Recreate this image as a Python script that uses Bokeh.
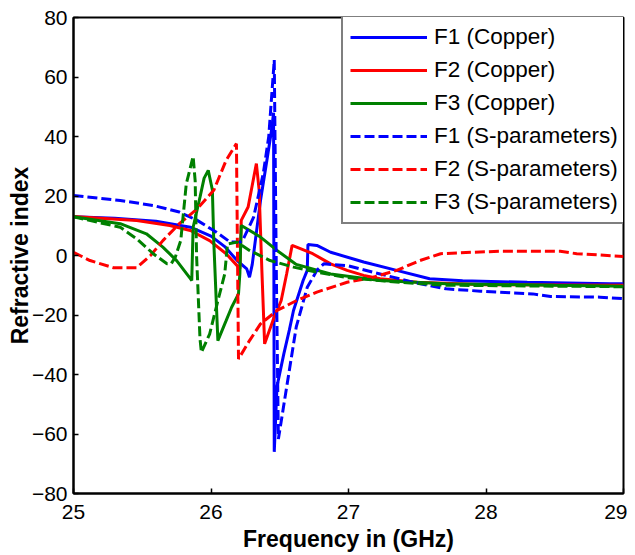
from bokeh.plotting import figure
from bokeh.models import Range1d, FixedTicker
from bokeh.embed import file_html
from bokeh.resources import INLINE

# ---------------- data ----------------
x_ticks = [25, 26, 27, 28, 29]
y_ticks = [-80, -60, -40, -20, 0, 20, 40, 60, 80]

f1_cu_x = [25.0, 25.3, 25.6, 25.85, 26.0, 26.1, 26.19, 26.26, 26.28, 26.30, 26.36, 26.41, 26.44, 26.455,
           26.46, 26.48, 26.53, 26.57, 26.60, 26.67, 26.70, 26.705, 26.77, 26.87, 27.11, 27.35, 27.59,
           27.83, 28.3, 28.9, 29.0]
f1_cu_y = [13.0, 12.5, 11.5, 9.5, 6.5, 3.0, -1.7, -4.5, -7.3, -3.0, 18.5, 33.0, 42.0, 48.0,
           -66.0, -44.0, -33.0, -25.0, -18.5, -8.4, -5.0, 3.7, 3.4, 1.1, -2.2, -5.0, -7.8,
           -8.5, -9.0, -9.5, -9.5]

f2_cu_x = [25.0, 25.46, 25.70, 25.85, 25.99, 26.11, 26.19, 26.21, 26.22, 26.27, 26.33, 26.35, 26.37,
           26.39, 26.45, 26.51, 26.55, 26.59, 26.65, 26.74, 26.87, 26.99, 27.11, 27.23, 27.5, 28.0, 29.0]
f2_cu_y = [13.1, 11.8, 10.1, 8.4, 5.0, 0.6, -3.4, -4.5, 11.8, 16.3, 30.9, 22.0, -5.0,
           -29.7, -21.9, -15.2, -6.2, 3.4, 2.3, 0.6, -2.8, -5.0, -6.7, -7.8, -9.0, -9.8, -10.0]

f3_cu_x = [25.0, 25.34, 25.53, 25.65, 25.75, 25.85, 25.86, 25.87, 25.92, 25.95, 25.98, 26.01, 26.02,
           26.05, 26.11, 26.15, 26.20, 26.21, 26.22, 26.36, 26.48, 26.62, 26.87, 27.23, 27.71, 28.5, 29.0]
f3_cu_y = [13.0, 10.7, 7.3, 2.8, -1.7, -7.8, -8.4, 9.5, 19.6, 26.0, 28.6, 22.0, 5.0,
           -28.6, -21.9, -17.4, -12.9, -6.0, 10.1, 6.2, 1.7, -3.0, -6.2, -8.4, -9.5, -10.0, -10.3]

f1_sp_x = [25.0, 25.34, 25.58, 25.77, 25.90, 26.04, 26.14, 26.21, 26.23, 26.31, 26.38, 26.42, 26.46,
           26.475, 26.49, 26.55, 26.62, 26.70, 26.77, 26.82, 26.99, 27.23, 27.47, 27.71, 27.96, 28.34,
           28.47, 28.83, 29.0]
f1_sp_y = [20.2, 18.5, 16.8, 14.6, 11.8, 7.8, 4.5, 4.5, 5.0, 12.9, 27.5, 40.0, 65.7,
           -5.0, -61.7, -44.3, -24.0, -10.7, -5.0, -2.8, -3.4, -6.2, -9.0, -11.2, -12.0, -12.9,
           -13.8, -14.0, -14.5]

f2_sp_x = [25.0, 25.12, 25.29, 25.46, 25.56, 25.65, 25.77, 25.90, 26.02, 26.11, 26.185, 26.20, 26.28,
           26.36, 26.48, 26.62, 26.77, 26.99, 27.18, 27.35, 27.52, 27.67, 27.91, 28.10, 28.54, 28.66, 29.0]
f2_sp_y = [1.1, -1.7, -4.1, -4.1, 0.0, 5.0, 10.7, 15.7, 21.9, 32.0, 37.6, -34.8, -28.6,
           -23.0, -18.5, -15.2, -12.3, -9.0, -7.3, -5.0, -1.7, 0.6, 1.1, 1.4, 1.4, 0.6, -0.3]

f3_sp_x = [25.0, 25.34, 25.46, 25.58, 25.68, 25.71, 25.74, 25.78, 25.82, 25.87, 25.885, 25.895, 25.92,
           25.93, 25.99, 26.05, 26.10, 26.12, 26.19, 26.28, 26.43, 26.60, 26.77, 27.0, 27.37, 27.7, 28.5, 29.0]
f3_sp_y = [13.0, 9.5, 5.6, 0.6, -2.8, -2.8, -0.6, 5.0, 24.0, 33.3, 25.0, 0.0, -28.0,
           -32.6, -26.4, -15.2, -6.2, 3.9, 4.5, 1.7, -1.7, -3.9, -5.6, -7.5, -9.0, -10.0, -10.3, -10.5]

series = [
    ("F1 (Copper)", f1_cu_x, f1_cu_y, "#0000ff", "solid"),
    ("F2 (Copper)", f2_cu_x, f2_cu_y, "#ff0000", "solid"),
    ("F3 (Copper)", f3_cu_x, f3_cu_y, "#008000", "solid"),
    ("F1 (S-parameters)", f1_sp_x, f1_sp_y, "#0000ff", "10 4"),
    ("F2 (S-parameters)", f2_sp_x, f2_sp_y, "#ff0000", "10 4"),
    ("F3 (S-parameters)", f3_sp_x, f3_sp_y, "#008000", "10 4"),
]

FONT = "Liberation Sans"

p = figure(frame_width=550, frame_height=476, output_backend="svg", toolbar_location=None,
           x_range=Range1d(25, 29), y_range=Range1d(-80, 80),
           min_border_left=73, min_border_right=4, min_border_top=17, min_border_bottom=60)
p.grid.visible = False
p.outline_line_color = "black"
p.outline_line_width = 2
p.outline_line_alpha = 1
p.background_fill_color = "white"
p.border_fill_color = "white"

for name, xs, ys, col, dash in series:
    p.line(xs, ys, line_color=col, line_width=3, line_dash=dash, legend_label=name)

def style_axis(ax, ticks):
    ax.ticker = FixedTicker(ticks=ticks)
    ax.major_tick_in = 5
    ax.major_tick_out = 0
    ax.minor_tick_line_color = None
    ax.axis_line_width = 2
    ax.axis_line_color = "black"
    ax.major_tick_line_color = "black"
    ax.major_tick_line_width = 1.5
    ax.major_label_text_font = FONT
    ax.major_label_text_font_size = "21px"
    ax.major_label_text_color = "black"
    ax.axis_label_text_font = FONT
    ax.axis_label_text_font_size = "23px"
    ax.axis_label_text_font_style = "bold"
    ax.axis_label_text_color = "black"

style_axis(p.xaxis[0], x_ticks)
style_axis(p.yaxis[0], y_ticks)
p.xaxis[0].axis_label = "Frequency in (GHz)"
p.yaxis[0].axis_label = "Refractive index"
p.xaxis[0].major_label_standoff = 11
p.xaxis[0].axis_label_standoff = 4
p.yaxis[0].major_label_standoff = 6
p.yaxis[0].axis_label_standoff = -4

lg = p.legend[0]
lg.location = (268, 269)
lg.border_line_color = "black"
lg.border_line_width = 2
lg.background_fill_color = "white"
lg.background_fill_alpha = 1
lg.label_text_font = FONT
lg.label_text_font_size = "22.5px"
lg.label_text_color = "black"
lg.padding = 7
lg.spacing = 7
lg.glyph_width = 77
lg.glyph_height = 24
lg.label_height = 24
lg.label_standoff = 7
lg.margin = 0

open("out.html", "w").write(file_html(p, INLINE))
